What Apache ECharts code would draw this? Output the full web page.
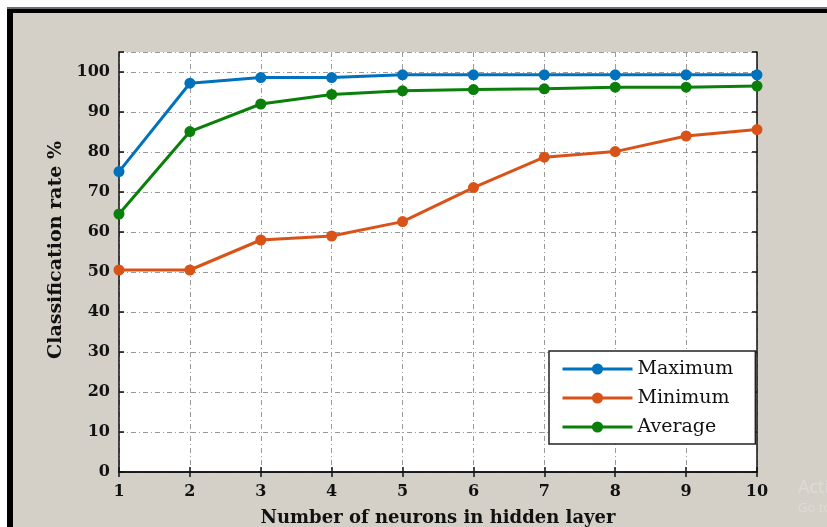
<!DOCTYPE html>
<html>
<head>
<meta charset="utf-8">
<script src="https://cdn.jsdelivr.net/npm/echarts@6/dist/echarts.min.js"></script>
<style>
  html, body { margin: 0; padding: 0; background: #fff; }
  #chart { width: 827px; height: 527px; }
</style>
</head>
<body>
<div id="chart"></div>
<script>
// neurons in hidden layer
var neurons = [1, 2, 3, 4, 5, 6, 7, 8, 9, 10];
// classification rate %
var maximumRate = [75.1, 97.2, 98.6, 98.6, 99.3, 99.3, 99.3, 99.3, 99.3, 99.3];
var minimumRate = [50.5, 50.5, 58.0, 59.0, 62.6, 71.1, 78.7, 80.1, 84.0, 85.6];
var averageRate = [64.5, 85.1, 92.0, 94.4, 95.3, 95.6, 95.8, 96.2, 96.2, 96.5];

var seriesNames = ['Maximum', 'Minimum', 'Average'];
var seriesColors = ['#0072bd', '#d95319', '#0a800a'];

function pairs(values){
    return neurons.map(function (n, i) { return [n, values[i]]; });
}

var myChart = echarts.init(document.getElementById('chart'));

var tickFont = { fontFamily: 'DejaVu Serif', fontWeight: 'bold', fontSize: 16, color: '#111' };
var gridLine = { show: true, lineStyle: { color: '#9a9a9a', width: 1, type: [5, 3, 1, 3] } };

var option = {
    backgroundColor: '#d4d0c8',
    animation: false,
    graphic: [
        // window frame around the figure
        { type: 'rect', shape: { x: 0, y: 0, width: 827, height: 7 }, style: { fill: '#fff' }, z: 0 },
        { type: 'rect', shape: { x: 0, y: 0, width: 7, height: 527 }, style: { fill: '#fff' }, z: 0 },
        { type: 'rect', shape: { x: 7, y: 7, width: 820, height: 2 }, style: { fill: '#6e6e6e' }, z: 0 },
        { type: 'rect', shape: { x: 7, y: 9, width: 820, height: 4 }, style: { fill: '#000' }, z: 0 },
        { type: 'rect', shape: { x: 7, y: 9, width: 6, height: 518 }, style: { fill: '#000' }, z: 0 },
        { type: 'text', left: 798, top: 479, style: { text: 'Activate Windows', fill: '#dedbd5', font: '18px "Open Sans"' }, z: 0 },
        { type: 'text', left: 798, top: 502, style: { text: 'Go to Settings to activate Windows.', fill: '#dedbd5', font: '13px "Open Sans"' }, z: 0 }
    ],
    grid: {
        left: 119, right: 70, top: 52, bottom: 55,
        outerBoundsMode: 'none',
        show: true, backgroundColor: '#fff', borderWidth: 0
    },
    legend: {
        data: seriesNames,
        orient: 'vertical',
        left: 549,
        top: 351,
        padding: [8, 22, 7, 12],
        itemWidth: 70,
        itemHeight: 14,
        itemGap: 9,
        backgroundColor: '#fff',
        borderColor: '#222',
        borderWidth: 1.5,
        borderRadius: 0,
        lineStyle: { width: 3 },
        textStyle: { fontFamily: 'DejaVu Serif', fontSize: 19, color: '#111', lineHeight: 20 }
    },
    xAxis: [
        {
            type: 'value',
            min: 1,
            max: 10,
            interval: 1,
            name: 'Number of neurons in hidden layer',
            nameLocation: 'middle',
            nameGap: 37,
            nameTextStyle: { fontFamily: 'DejaVu Serif', fontWeight: 'bold', fontSize: 18, color: '#111' },
            axisLine: { lineStyle: { color: '#111', width: 1.5 } },
            axisTick: { inside: true, length: 5, lineStyle: { color: '#111', width: 1.5 } },
            axisLabel: Object.assign({ margin: 12 }, tickFont),
            splitLine: gridLine
        },
        {
            type: 'value',
            position: 'top',
            min: 1,
            max: 10,
            interval: 1,
            axisLine: { lineStyle: { color: '#111', width: 1.5 } },
            axisTick: { inside: true, length: 5, lineStyle: { color: '#111', width: 1.5 } },
            axisLabel: { show: false },
            splitLine: { show: false }
        }
    ],
    yAxis: [
        {
            type: 'value',
            min: 0,
            max: 105,
            interval: 10,
            name: 'Classification rate %',
            nameLocation: 'middle',
            nameGap: 52,
            nameTextStyle: { fontFamily: 'DejaVu Serif', fontWeight: 'bold', fontSize: 19, color: '#111', padding: [0, 0, 0, 24] },
            axisLine: { show: true, lineStyle: { color: '#111', width: 1.5 } },
            axisTick: { show: true, inside: true, length: 5, lineStyle: { color: '#111', width: 1.5 } },
            axisLabel: Object.assign({
                margin: 9,
                formatter: function (v) { return v > 100 ? '' : String(v); }
            }, tickFont),
            splitLine: gridLine
        },
        {
            type: 'value',
            position: 'right',
            min: 0,
            max: 105,
            interval: 10,
            axisLine: { show: true, lineStyle: { color: '#111', width: 1.5 } },
            axisTick: { show: true, inside: true, length: 5, lineStyle: { color: '#111', width: 1.5 } },
            axisLabel: { show: false },
            splitLine: { show: false }
        }
    ],
    series: [
        {
            name: 'Maximum',
            type: 'line',
            data: pairs(maximumRate),
            symbol: 'circle',
            symbolSize: 11,
            lineStyle: { width: 3, color: seriesColors[0] },
            itemStyle: { color: seriesColors[0] }
        },
        {
            name: 'Minimum',
            type: 'line',
            data: pairs(minimumRate),
            symbol: 'circle',
            symbolSize: 11,
            lineStyle: { width: 3, color: seriesColors[1] },
            itemStyle: { color: seriesColors[1] }
        },
        {
            name: 'Average',
            type: 'line',
            data: pairs(averageRate),
            symbol: 'circle',
            symbolSize: 11,
            lineStyle: { width: 3, color: seriesColors[2] },
            itemStyle: { color: seriesColors[2] }
        }
    ]
};

myChart.setOption(option);
</script>
</body>
</html>
